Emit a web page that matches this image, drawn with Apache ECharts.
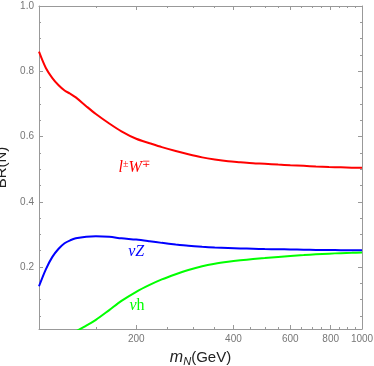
<!DOCTYPE html>
<html>
<head>
<meta charset="utf-8">
<script src="https://cdn.jsdelivr.net/npm/echarts@6/dist/echarts.min.js"></script>
<style>html,body{margin:0;padding:0;background:#fff}#c{width:374px;height:366px}</style>
</head>
<body>
<div id="c"></div>
<script>
// Heavy neutrino mass (GeV)
const mass = [100, 105, 110, 115, 120, 125, 130, 140, 150, 165, 180, 200, 220, 240, 265, 290, 320, 350, 385, 420, 460, 500, 550, 600, 660, 720, 790, 860, 930, 1000];
// Branching ratios
const brLW = [0.860, 0.810, 0.779, 0.757, 0.741, 0.731, 0.720, 0.693, 0.669, 0.640, 0.616, 0.593, 0.5795, 0.5675, 0.5555, 0.5455, 0.536, 0.5295, 0.524, 0.521, 0.518, 0.5165, 0.514, 0.512, 0.510, 0.508, 0.5065, 0.5055, 0.5045, 0.504];
const brNuZ = [0.141, 0.193, 0.231, 0.256, 0.273, 0.282, 0.288, 0.293, 0.294, 0.2925, 0.288, 0.284, 0.279, 0.274, 0.269, 0.265, 0.262, 0.260, 0.2585, 0.257, 0.256, 0.255, 0.2545, 0.254, 0.253, 0.2525, 0.252, 0.2515, 0.251, 0.251];
const brNuH = [0, 0, 0, 0, 0, 0, 0.003, 0.020, 0.038, 0.068, 0.096, 0.124, 0.145, 0.162, 0.178, 0.191, 0.2025, 0.210, 0.216, 0.2205, 0.2245, 0.2275, 0.231, 0.234, 0.2365, 0.239, 0.241, 0.2425, 0.2435, 0.2445];
// Tick values
const xMajor = [200, 400, 600, 800, 1000];
const xMinor = [150, 250, 300, 350, 450, 500, 550, 650, 700, 750, 850, 900, 950];
const yMajor = [0.2, 0.4, 0.6, 0.8, 1.0];
const yMinor = [0.05, 0.1, 0.15, 0.25, 0.3, 0.35, 0.45, 0.5, 0.55, 0.65, 0.7, 0.75, 0.85, 0.9, 0.95];
// Curve label anchors [mass, BR]
const labelLW = [197, 0.503];
const labelNuZ = [200, 0.248];
const labelNuH = [201, 0.080];

const AX = '#999';
const serif = 'Liberation Serif';

function pairs(ys) { return mass.map((m, i) => [m, ys[i]]); }

function xAx(pos, values, len, showLabel, extra) {
  return Object.assign({
    type: 'log', logBase: 10, min: 100, max: 1000, position: pos, gridIndex: 0,
    axisLine: { show: true, lineStyle: { color: AX, width: 1 } },
    axisTick: { show: true, inside: true, length: len, customValues: values, lineStyle: { color: AX } },
    axisLabel: { show: showLabel, customValues: values, color: '#777', fontSize: 10, margin: 5, fontFamily: 'Liberation Sans',
      formatter: v => String(Math.round(v)) },
    splitLine: { show: false }, minorTick: { show: false }
  }, extra || {});
}
function yAx(pos, values, len, showLabel, extra) {
  return Object.assign({
    type: 'value', min: 0.01, max: 1, position: pos, gridIndex: 0,
    axisLine: { show: true, lineStyle: { color: AX, width: 1 } },
    axisTick: { show: true, inside: true, length: len, customValues: values, lineStyle: { color: AX } },
    axisLabel: { show: showLabel, customValues: values, color: '#777', fontSize: 10, margin: 5, fontFamily: 'Liberation Sans',
      formatter: v => v.toFixed(1) },
    splitLine: { show: false }
  }, extra || {});
}

function lbl(coord, fmt, color) {
  return {
    symbol: 'circle', symbolSize: 1, itemStyle: { color: 'rgba(0,0,0,0)' },
    label: {
      show: true, position: 'inside', formatter: fmt, color: color,
      rich: {
        i: { fontFamily: serif, fontStyle: 'italic', fontSize: 16, color: color },
        r: { fontFamily: serif, fontSize: 16, color: color },
        s: { fontFamily: serif, fontSize: 10, color: color, padding: [0, 0, 8, 0] }
      }
    },
    data: [{ coord: coord }]
  };
}

const chart = echarts.init(document.getElementById('c'), null, { renderer: 'canvas' });
chart.setOption({
  animation: false,
  backgroundColor: '#fff',
  grid: { left: 39, right: 12, top: 6, bottom: 37, containLabel: false, outerBoundsMode: 'none' },
  xAxis: [
    xAx('bottom', xMajor, 4, true, {
      name: '{i|m}{sub|N}(GeV)', nameLocation: 'middle', nameGap: 20,
      nameTextStyle: { color: '#222', fontSize: 15, fontFamily: 'Liberation Sans',
        rich: { i: { fontStyle: 'italic', fontSize: 16, fontFamily: 'Liberation Sans', color: '#222' },
                sub: { fontStyle: 'italic', fontSize: 11, fontFamily: 'Liberation Sans', color: '#222', padding: [7, 0, 0, 0] } } }
    }),
    xAx('bottom', xMinor, 2, false, { axisLine: { show: false } }),
    xAx('top', xMajor, 4, false),
    xAx('top', xMinor, 2, false, { axisLine: { show: false } })
  ],
  yAxis: [
    yAx('left', yMajor, 4, true, {
      name: 'BR(N)', nameLocation: 'middle', nameGap: 26, nameRotate: 90,
      nameTextStyle: { color: '#222', fontSize: 15, fontFamily: 'Liberation Sans' }
    }),
    yAx('left', yMinor, 2, false, { axisLine: { show: false } }),
    yAx('right', yMajor, 4, false),
    yAx('right', yMinor, 2, false, { axisLine: { show: false } })
  ],
  series: [
    { type: 'line', name: 'lW', data: pairs(brLW), xAxisIndex: 0, yAxisIndex: 0, smooth: 0.3,
      showSymbol: false, clip: true, lineStyle: { color: '#ff0000', width: 2 }, itemStyle: { color: '#ff0000' },
      markPoint: lbl(labelLW, '{i|l}{s|±}{i|W}{s|∓}', '#ff0000') },
    { type: 'line', name: 'nuZ', data: pairs(brNuZ), xAxisIndex: 0, yAxisIndex: 0, smooth: 0.3,
      showSymbol: false, clip: true, lineStyle: { color: '#0000ff', width: 2 }, itemStyle: { color: '#0000ff' },
      markPoint: lbl(labelNuZ, '{i|νZ}', '#0000ff') },
    { type: 'line', name: 'nuh', data: pairs(brNuH), xAxisIndex: 0, yAxisIndex: 0, smooth: 0.3,
      showSymbol: false, clip: true, lineStyle: { color: '#00ff00', width: 2 }, itemStyle: { color: '#00ff00' },
      markPoint: lbl(labelNuH, '{i|ν}{r|h}', '#00ff00') }
  ]
});
</script>
</body>
</html>
